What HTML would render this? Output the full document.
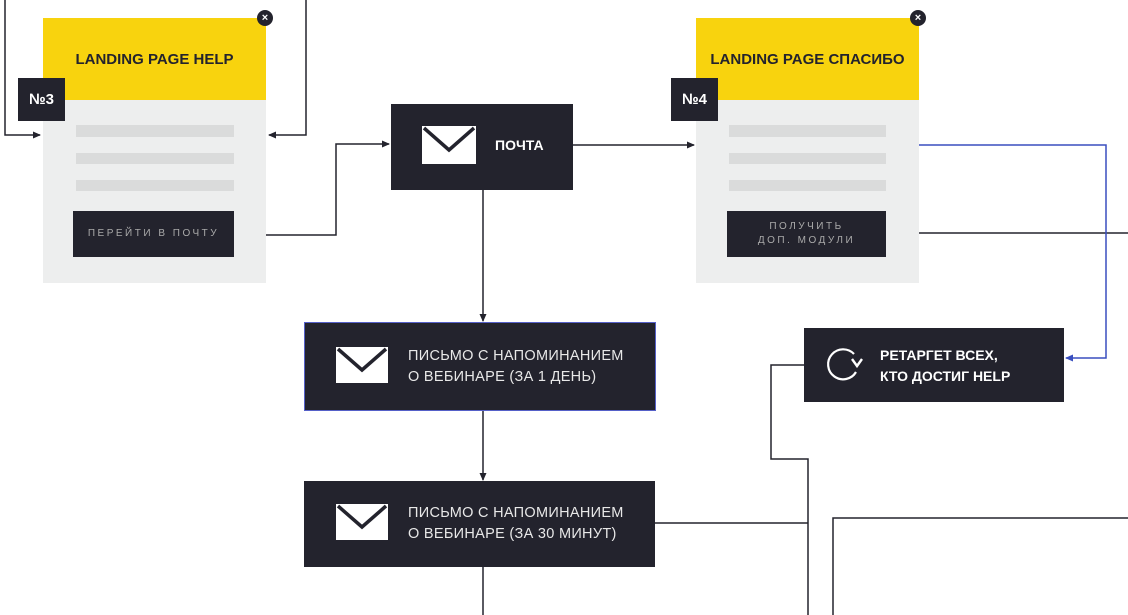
<!DOCTYPE html>
<html><head><meta charset="utf-8"><style>
body{margin:0;width:1128px;height:615px;background:#fff;position:relative;overflow:hidden;font-family:"Liberation Sans","DejaVu Sans",sans-serif}
.a{position:absolute;box-sizing:border-box}
.dark{background:#23232d;color:#fff}
.card{background:#edeeee}
.yel{background:#f8d30e;color:#23232d;font-weight:bold;font-size:15px;display:flex;align-items:center;justify-content:center}
.badge{background:#23232d;color:#fff;font-weight:bold;font-size:15px;display:flex;align-items:center;justify-content:center}
.gl{background:#dadbdb}
.btn{background:#23232d;color:#aaa;font-size:10px;letter-spacing:2.5px;display:flex;align-items:center;justify-content:center;text-align:center;line-height:14px}
.close{width:16px;height:16px;border-radius:50%;background:#23232d;color:#fff;font-size:11px;line-height:16px;text-align:center;font-weight:bold}
.t{position:absolute;color:#e8e8e8;font-size:14.5px;line-height:21px;letter-spacing:0.3px}
.tb{position:absolute;color:#fff;font-size:14px;font-weight:bold;line-height:21px}
</style></head><body>
<svg class="a" style="left:0;top:0" width="1128" height="615">
<defs><marker id="ar" markerWidth="8" markerHeight="8" refX="7" refY="4" orient="auto" markerUnits="userSpaceOnUse"><path d="M0,0.5 L8,4 L0,7.5z" fill="#23232d"/></marker>
<marker id="ab" markerWidth="8" markerHeight="8" refX="7" refY="4" orient="auto" markerUnits="userSpaceOnUse"><path d="M0,0.5 L8,4 L0,7.5z" fill="#3a4fbf"/></marker></defs>
<g fill="none" stroke="#23232d" stroke-width="1.5">
<path d="M5,0 V135 H40" marker-end="url(#ar)"/>
<path d="M306,0 V135 H269" marker-end="url(#ar)"/>
<path d="M234,235 H336 V144 H389" marker-end="url(#ar)"/>
<path d="M573,145 H694" marker-end="url(#ar)"/>
<path d="M886,233 H1128"/>
<path d="M483,190 V321" marker-end="url(#ar)"/>
<path d="M483,410 V480" marker-end="url(#ar)"/>
<path d="M483,567 V615"/>
<path d="M804,365 H771 V459 H808 V615"/>
<path d="M655,523 H808"/>
<path d="M833,615 V518 H1128"/>
</g>
<path d="M919,145 H1106 V358 H1066" fill="none" stroke="#3a4fbf" stroke-width="1.5" marker-end="url(#ab)"/>
</svg>

<div class="a card" style="left:43px;top:18px;width:223px;height:265px"></div>
<div class="a yel" style="left:43px;top:18px;width:223px;height:82px">LANDING PAGE HELP</div>
<div class="a badge" style="left:18px;top:78px;width:47px;height:43px">№3</div>
<div class="a close" style="left:257px;top:10px">×</div>
<div class="a gl" style="left:76px;top:125px;width:158px;height:12px"></div>
<div class="a gl" style="left:76px;top:153px;width:158px;height:11px"></div>
<div class="a gl" style="left:76px;top:180px;width:158px;height:11px"></div>
<div class="a btn" style="left:73px;top:211px;width:161px;height:46px">ПЕРЕЙТИ В ПОЧТУ</div>

<div class="a card" style="left:696px;top:18px;width:223px;height:265px"></div>
<div class="a yel" style="left:696px;top:18px;width:223px;height:82px">LANDING PAGE СПАСИБО</div>
<div class="a badge" style="left:671px;top:78px;width:47px;height:43px">№4</div>
<div class="a close" style="left:910px;top:10px">×</div>
<div class="a gl" style="left:729px;top:125px;width:157px;height:12px"></div>
<div class="a gl" style="left:729px;top:153px;width:157px;height:11px"></div>
<div class="a gl" style="left:729px;top:180px;width:157px;height:11px"></div>
<div class="a btn" style="left:727px;top:211px;width:159px;height:46px">ПОЛУЧИТЬ<br>ДОП. МОДУЛИ</div>

<div class="a dark" style="left:391px;top:104px;width:182px;height:86px"></div>
<svg class="a" style="left:422px;top:126px" width="54" height="38"><rect width="54" height="38" fill="#fff"/><path d="M2,2 L27,24 L52,2" fill="none" stroke="#23232d" stroke-width="3.5"/></svg>
<div class="tb" style="left:495px;top:135px">ПОЧТА</div>

<div class="a dark" style="left:304px;top:322px;width:352px;height:89px;border:1.5px solid #5560c8"></div>
<svg class="a" style="left:336px;top:347px" width="52" height="36"><rect width="52" height="36" fill="#fff"/><path d="M2,2 L26,23 L50,2" fill="none" stroke="#23232d" stroke-width="3.5"/></svg>
<div class="t" style="left:408px;top:346px">ПИСЬМО С НАПОМИНАНИЕМ<br>О ВЕБИНАРЕ (ЗА 1 ДЕНЬ)</div>

<div class="a dark" style="left:304px;top:481px;width:351px;height:86px"></div>
<svg class="a" style="left:336px;top:504px" width="52" height="36"><rect width="52" height="36" fill="#fff"/><path d="M2,2 L26,23 L50,2" fill="none" stroke="#23232d" stroke-width="3.5"/></svg>
<div class="t" style="left:408px;top:503px">ПИСЬМО С НАПОМИНАНИЕМ<br>О ВЕБИНАРЕ (ЗА 30 МИНУТ)</div>

<div class="a dark" style="left:804px;top:328px;width:260px;height:74px"></div>
<svg class="a" style="left:822px;top:344px" width="44" height="44"><path d="M32,10 A15,15 0 1 0 34,28" fill="none" stroke="#fff" stroke-width="2.2"/><path d="M30,15 L35,22 L40,15" fill="none" stroke="#fff" stroke-width="2.4"/></svg>
<div class="tb" style="left:880px;top:345px">РЕТАРГЕТ ВСЕХ,<br>КТО ДОСТИГ HELP</div>
</body></html>
